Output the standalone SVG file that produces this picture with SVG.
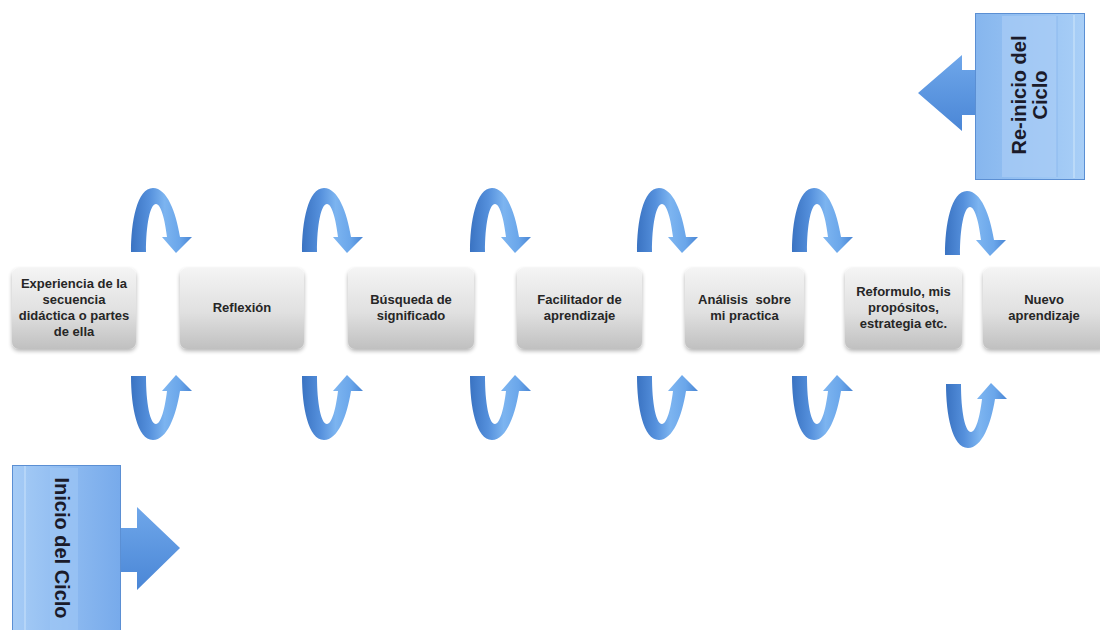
<svg xmlns="http://www.w3.org/2000/svg" width="1100" height="630" viewBox="0 0 1100 630">
  <defs>
    <linearGradient id="boxFill" x1="0" y1="0" x2="0" y2="1">
      <stop offset="0" stop-color="#f4f4f4"/>
      <stop offset="0.55" stop-color="#e0e0e0"/>
      <stop offset="1" stop-color="#c0c0c0"/>
    </linearGradient>
    <linearGradient id="curlFill" x1="0" y1="0" x2="1" y2="0">
      <stop offset="0" stop-color="#3a73c2"/>
      <stop offset="0.3" stop-color="#5590dc"/>
      <stop offset="0.55" stop-color="#7cb4f0"/>
      <stop offset="0.8" stop-color="#6aa6ea"/>
      <stop offset="1" stop-color="#4a86d4"/>
    </linearGradient>
    <linearGradient id="panelR" x1="0" y1="0" x2="1" y2="0">
      <stop offset="0" stop-color="#86b6ee"/>
      <stop offset="1" stop-color="#a9cff7"/>
    </linearGradient>
    <linearGradient id="panelL" x1="0" y1="0" x2="1" y2="0">
      <stop offset="0" stop-color="#a6ccf6"/>
      <stop offset="1" stop-color="#77aaeb"/>
    </linearGradient>
    <linearGradient id="blockArrow" x1="0" y1="0" x2="0" y2="1">
      <stop offset="0" stop-color="#6fa7ea"/>
      <stop offset="1" stop-color="#4a86d6"/>
    </linearGradient>
    <filter id="soft" x="-10%" y="-10%" width="120%" height="130%">
      <feGaussianBlur in="SourceAlpha" stdDeviation="2"/>
      <feOffset dy="2" result="b"/>
      <feComponentTransfer><feFuncA type="linear" slope="0.3"/></feComponentTransfer>
      <feMerge><feMergeNode/><feMergeNode in="SourceGraphic"/></feMerge>
    </filter>
    <!-- U-turn arrow, drawn pointing down; mirrored for the lower row -->
    <path id="curl" d="M0,252 C0,222 6,188 22,188 C36,188 45,212 49,237 L61,237 L45,253 L31,237 L36,237 C34,220 30,204 25,204 C19,204 15,225 15,252 Z"/>
  </defs>
  <style>
    .box { fill: url(#boxFill); filter: url(#soft); }
    .lbl { font-family: "Liberation Sans", Arial, sans-serif; font-size: 13px; font-weight: bold; fill: #262626; text-anchor: middle; }
    .curl { fill: url(#curlFill); }
    .panelTxt { font-family: "Liberation Sans", Arial, sans-serif; font-size: 20px; font-weight: bold; fill: #1b1b2a; text-anchor: middle; }
    .edge { fill: none; stroke: #5b8fd3; stroke-width: 1; }
  </style>

  <rect width="1100" height="630" fill="#ffffff"/>

  <!-- curved connectors between steps -->
  <g id="connectors">
    <use href="#curl" class="curl" transform="translate(131,0)"/>
    <use href="#curl" class="curl" transform="translate(302,0)"/>
    <use href="#curl" class="curl" transform="translate(470,0)"/>
    <use href="#curl" class="curl" transform="translate(637,0)"/>
    <use href="#curl" class="curl" transform="translate(792,0)"/>
    <use href="#curl" class="curl" transform="translate(945,3)"/>
    <use href="#curl" class="curl" transform="translate(131,628) scale(1,-1)"/>
    <use href="#curl" class="curl" transform="translate(302,628) scale(1,-1)"/>
    <use href="#curl" class="curl" transform="translate(470,628) scale(1,-1)"/>
    <use href="#curl" class="curl" transform="translate(637,628) scale(1,-1)"/>
    <use href="#curl" class="curl" transform="translate(792,628) scale(1,-1)"/>
    <use href="#curl" class="curl" transform="translate(946,636) scale(1,-1)"/>
  </g>

  <!-- process steps -->
  <g id="step1">
    <rect class="box" x="12" y="268" width="124" height="81" rx="7"/>
    <text class="lbl" x="74" y="288">Experiencia de la<tspan x="74" dy="16">secuencia</tspan><tspan x="74" dy="16">didáctica o partes</tspan><tspan x="74" dy="16">de ella</tspan></text>
  </g>
  <g id="step2">
    <rect class="box" x="180" y="268" width="124" height="81" rx="7"/>
    <text class="lbl" x="242" y="312">Reflexión</text>
  </g>
  <g id="step3">
    <rect class="box" x="348" y="268" width="126" height="81" rx="7"/>
    <text class="lbl" x="411" y="304">Búsqueda de<tspan x="411" dy="16">significado</tspan></text>
  </g>
  <g id="step4">
    <rect class="box" x="517" y="268" width="125" height="81" rx="7"/>
    <text class="lbl" x="579.5" y="304">Facilitador de<tspan x="579.5" dy="16">aprendizaje</tspan></text>
  </g>
  <g id="step5">
    <rect class="box" x="685" y="268" width="119" height="81" rx="7"/>
    <text class="lbl" x="744.5" y="304" word-spacing="4">Análisis sobre<tspan x="744.5" dy="16" word-spacing="0">mi practica</tspan></text>
  </g>
  <g id="step6">
    <rect class="box" x="845" y="268" width="117" height="81" rx="7"/>
    <text class="lbl" x="903.5" y="296">Reformulo, mis<tspan x="903.5" dy="16">propósitos,</tspan><tspan x="903.5" dy="16">estrategia etc.</tspan></text>
  </g>
  <g id="step7">
    <rect class="box" x="983" y="268" width="124" height="81" rx="7"/>
    <text class="lbl" x="1044" y="304">Nuevo<tspan x="1044" dy="16">aprendizaje</tspan></text>
  </g>

  <!-- start panel with right-pointing arrow -->
  <g id="start">
    <path d="M121,528 L137,528 L137,507 L180,548 L137,590 L137,572 L121,572 Z" fill="url(#blockArrow)"/>
    <rect x="12" y="465" width="109" height="180" fill="url(#panelL)"/>
    <rect x="12.5" y="465.5" width="108" height="180" class="edge"/>
    <rect x="50" y="468" width="28" height="170" fill="#9ec6f5" opacity="0.6"/>
    <line x1="25" y1="466" x2="25" y2="630" stroke="#bcdaf9" stroke-width="1.5"/>
    <text class="panelTxt" transform="translate(62,548) rotate(90)" y="7">Inicio del Ciclo</text>
  </g>

  <!-- restart panel with left-pointing arrow -->
  <g id="restart">
    <path d="M975,70 L962,70 L962,55 L918,93 L962,131 L962,115 L975,115 Z" fill="url(#blockArrow)"/>
    <rect x="975" y="13" width="110" height="167" fill="url(#panelR)"/>
    <rect x="975.5" y="13.5" width="109" height="166" class="edge"/>
    <rect x="1002" y="16" width="55" height="161" fill="#a8ccf5" opacity="0.7"/>
    <line x1="1057" y1="16" x2="1057" y2="177" stroke="#8cb9ee" stroke-width="1"/>
    <line x1="1074" y1="15" x2="1074" y2="178" stroke="#c2def9" stroke-width="1.5"/>
    <text class="panelTxt" transform="translate(1030,95) rotate(-90)" y="-4">Re-inicio del<tspan x="0" dy="21">Ciclo</tspan></text>
  </g>
</svg>
